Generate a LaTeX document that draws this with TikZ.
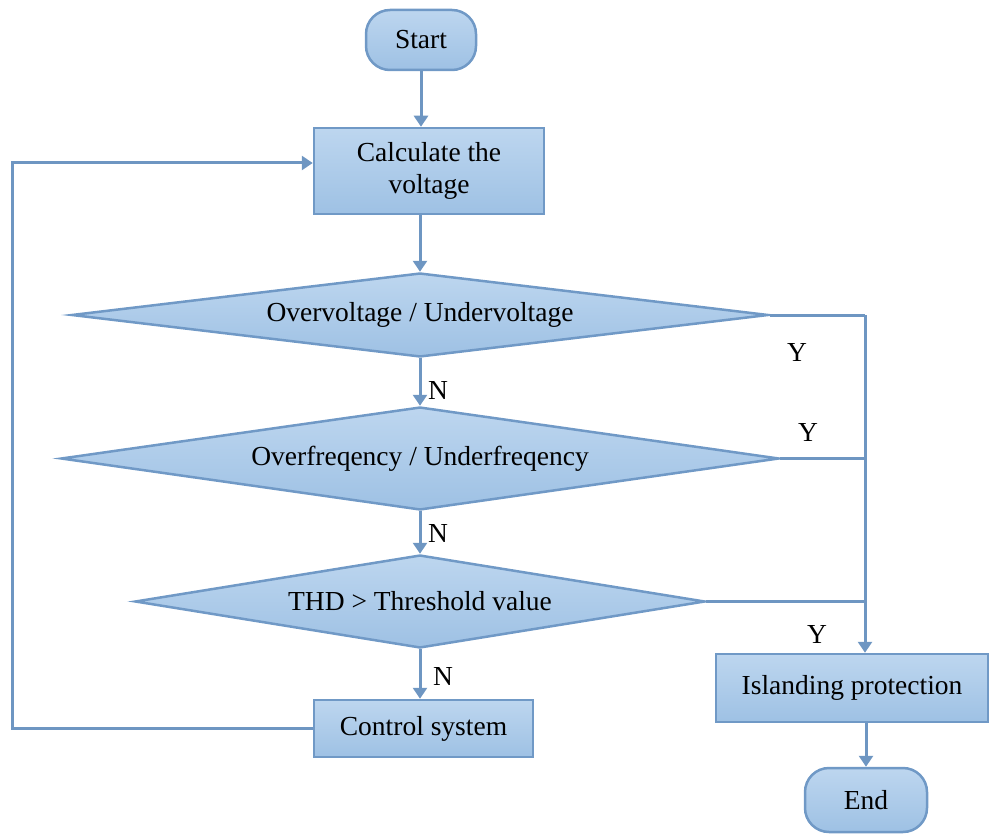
\documentclass[tikz,border=0pt]{standalone}
\usepackage{fontspec}
\setmainfont{Liberation Serif}
\usetikzlibrary{shapes.geometric,arrows.meta}
\definecolor{edgeblue}{HTML}{7099C6}
\definecolor{linkblue}{HTML}{6E96C2}
\definecolor{filltop}{HTML}{BDD6EF}
\definecolor{fillbot}{HTML}{9EC1E4}
\tikzset{
  box/.style={draw=edgeblue, line width=2.5pt, top color=filltop, bottom color=fillbot, inner sep=0pt, align=center, font=\fontsize{27.5}{32}\selectfont},
  procbox/.style={box, rectangle},
  termbox/.style={box, rectangle, rounded corners=24pt},
  decbox/.style={box, diamond},
  link/.style={draw=linkblue, line width=3pt},
  arr/.style={link, -{Triangle[width=14pt,length=11pt]}},
  lbl/.style={font=\fontsize{27.5}{32}\selectfont, inner sep=0pt}
}
\begin{document}
\begin{tikzpicture}[x=1pt,y=-1pt]
\useasboundingbox (0,0) rectangle (992,834);
\node[termbox, minimum width=110pt, minimum height=60pt] (start) at (421,40) {Start};
\node[procbox, minimum width=230pt, minimum height=86pt] (calc) at (429,171) {Calculate the\\voltage};
\node[decbox, minimum width=697pt, minimum height=84pt] (d1) at (420,315) {};
\node[lbl] (d1t) at (d1) {Overvoltage / Undervoltage};
\node[decbox, minimum width=718pt, minimum height=103pt] (d2) at (420,458.5) {};
\node[lbl] (d2t) at (d2) {Overfreqency / Underfreqency};
\node[decbox, minimum width=570pt, minimum height=93pt] (d3) at (420,601.5) {};
\node[lbl] (d3t) at (d3) {THD {>} Threshold value};
\node[procbox, minimum width=219pt, minimum height=57pt] (ctrl) at (423.5,728.5) {Control system};
\node[procbox, minimum width=272pt, minimum height=68pt] (isl) at (852,688) {Islanding protection};
\node[termbox, minimum width=122pt, minimum height=64pt] (end) at (866,800) {End};

\coordinate (lp) at (12,163);
\coordinate (rt) at (865,315);

\draw[arr] (start.south) -- (start.south |- calc.north);
\draw[arr] (d1.north |- calc.south) -- (d1.north);
\draw[arr] (d1.south) -- (d2.north);
\draw[arr] (d2.south) -- (d3.north);
\draw[arr] (d3.south) -- (d3.south |- ctrl.north);
\draw[link] (d1.east) -- (rt);
\draw[link] (d2.east) -- (d2.east -| rt);
\draw[link] (d3.east) -- (d3.east -| rt);
\draw[arr] (rt) -- (rt |- isl.north);
\draw[arr] (isl.south -| end.north) -- (end.north);
\draw[arr] (ctrl.west) -| (lp) -- (calc.west |- lp);

\node[lbl] (y1) at (797,352) {Y};
\node[lbl] (y2) at (808,432) {Y};
\node[lbl] (y3) at (817,634) {Y};
\node[lbl] (n1) at (438,390) {N};
\node[lbl] (n2) at (438,533) {N};
\node[lbl] (n3) at (443,676) {N};
\end{tikzpicture}
\end{document}
